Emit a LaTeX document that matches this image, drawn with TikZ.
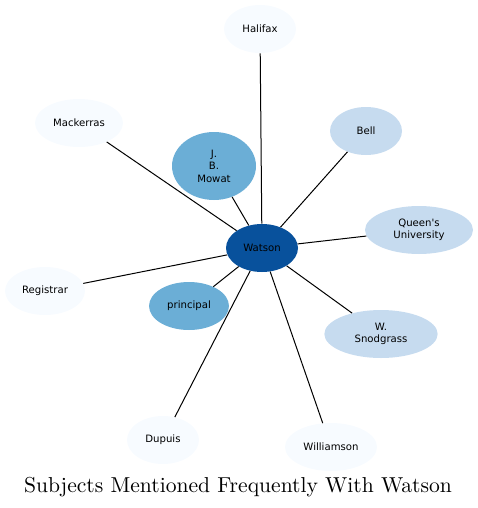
\documentclass[tikz,border=0pt]{standalone}
\usepackage{fontspec}
\setsansfont{DejaVu Sans}
\newfontfamily\titlefont{lmroman10-regular}[Extension=.otf]
\usetikzlibrary{shapes.geometric}
\definecolor{darkblue}{HTML}{08519C}
\definecolor{midblue}{HTML}{6BAED6}
\definecolor{lightblue}{HTML}{C6DBEF}
\definecolor{paleblue}{HTML}{F7FBFF}
\tikzset{
  subject/.style={ellipse,inner sep=0pt,minimum height=36pt,align=center,
    font=\sffamily\fontsize{7.6}{9.4}\selectfont},
  link/.style={black,line width=0.75pt}
}
\begin{document}
\begin{tikzpicture}[x=0.75pt,y=-0.75pt]
\useasboundingbox (0,0) rectangle (478,508);
% centre of the network
\node[subject,fill=darkblue,minimum width=54pt] (watson) at (262,248) {Watson};
% subjects around it
\node[subject,fill=paleblue,minimum width=54pt] (halifax) at (260,29) {Halifax};
\node[subject,fill=paleblue,minimum width=66pt] (mackerras) at (79,123) {Mackerras};
\node[subject,fill=midblue,minimum width=63pt,minimum height=51pt] (mowat) at (214,166) {J.\\ B.\\ Mowat};
\node[subject,fill=lightblue,minimum width=54pt] (bell) at (366,131) {Bell};
\node[subject,fill=lightblue,minimum width=81pt] (queens) at (419,230) {Queen\textquotesingle s\\ University};
\node[subject,fill=paleblue,minimum width=60pt] (registrar) at (45,291) {Registrar};
\node[subject,fill=midblue,minimum width=60pt] (principal) at (189,306) {principal};
\node[subject,fill=lightblue,minimum width=85pt] (snodgrass) at (381,334) {W.\\ Snodgrass};
\node[subject,fill=paleblue,minimum width=54pt] (dupuis) at (163,440) {Dupuis};
\node[subject,fill=paleblue,minimum width=69pt] (williamson) at (331,447) {Williamson};
\foreach \other in {halifax,mackerras,mowat,bell,queens,registrar,principal,snodgrass,dupuis,williamson}
  \draw[link] (watson) -- (\other);
% title
\node[font=\titlefont\fontsize{16.2}{19}\selectfont] (title) at (238,487) {Subjects Mentioned Frequently With Watson};
\end{tikzpicture}
\end{document}
